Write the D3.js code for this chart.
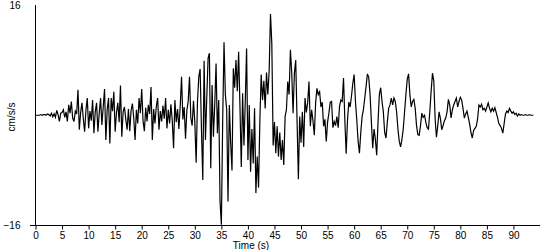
<!DOCTYPE html>
<html>
<head>
<meta charset="utf-8">
<script src="https://cdn.jsdelivr.net/npm/d3@7"></script>
<style>
  body { margin: 0; background: #fff; }
  svg { display: block; }
  .tick text, .lbl { font-family: "Liberation Sans", Arial, sans-serif; font-size: 10px; fill: #000; }
</style>
</head>
<body>
<svg id="chart" width="550" height="250"></svg>
<script>
// accelerogram, every 0.25 s
var dt = 0.25;
var accel = [
  0, 0, 0, 0, 0.1, 0, 0.1, 0.1, 0, 0.2, 0.1, -0.1, 0.3, -0.2, 0.2, -0.3, 0.7, 0.1, -0.9, 0.3,
  0.4, 0.8, -0.3, 0.5, -0.9, 1.5, 0.3, 2.0, -0.4, -0.9, 0.6, 0.2, 3.7, -2.1, 0.4, 1.8, -0.5, -2.4, 0.8, 2.5,
  -1.9, 0.6, -0.8, 2.2, -2.6, 0.5, 1.8, -2.4, 0.3, 2.5, -1.4, 1.2, 3.8, -3.6, 0.8, 2.5, -4.1, 2.5, 0.6, 3.4,
  -2.4, 0.4, 1.8, -1.0, 4.3, -3.1, 0.5, 1.2, -0.6, -2.1, 0.9, -2.3, 0.7, 1.7, -0.4, -3.6, 0.8, -1.2, 2.5, 0.3,
  3.8, -0.8, -2.3, 1.1, -0.9, 1.5, 0.2, 4.1, -3.6, 0.9, -1.2, 1.3, 2.5, -2.1, 0.6, -0.9, 1.4, -0.5, 2.5, -1.9,
  0.8, -1.2, 1.6, -0.8, -4.8, 2.2, -1.0, 0.9, -2.0, 1.3, 5.6, -0.6, 1.2, -3.4, 0.7, 2.0, 5.6, -0.4, -1.5, 2.1,
  -1.0, -6.9, 2.0, 5.6, 6.7, -2.0, -9.4, 7.9, -3.6, 2.5, 8.3, 9.0, -7.7, 4.4, -3.1, 1.5, 7.5, -2.6, 2.2, -12.5,
  -15.9, -0.7, 10.6, 3.0, 0.8, -12.5, 1.5, -4.0, -8.0, 6.8, 4.0, 8.0, 3.5, 9.2, 1.3, -7.5, 3.2, -4.4, 2.0, 9.7,
  -6.5, 1.5, -8.2, -2.0, -7.0, 1.0, -11.3, -6.0, -10.5, -0.7, 5.9, 2.2, 5.0, 1.0, 6.2, 3.0, 6.5, 14.7, 10.4, -4.4,
  -1.0, -5.5, -1.6, -6.0, -2.5, -6.5, -3.6, -7.2, -0.2, 0.8, 4.9, 3.0, 9.5, 6.1, 0.3, 6.1, 8.0, -0.7, -9.3, -0.2,
  -4.0, 0.5, -4.6, 2.5, 0.4, 1.8, 4.9, -1.6, 0.8, -0.8, -2.9, 1.8, 3.9, 3.0, 3.4, 1.2, 1.9, -1.6, -0.6, -3.8,
  -1.0, 0.3, 1.9, 2.0, -1.8, -0.9, -1.5, -0.2, -1.8, 1.3, 2.2, 2.0, 5.4, -0.7, -5.6, -0.7, 1.9, 1.2, 2.8, 4.6,
  5.9, 2.0, -0.7, -3.8, -5.5, -2.5, -0.2, 0.8, 2.5, 4.2, 6.0, 5.5, 3.0, -1.0, -4.8, -2.0, -3.5, -5.8, -1.0, 3.0,
  4.0, 2.0, 0.5, -2.5, -3.3, -1.0, 1.0, 1.5, 2.5, 1.5, 2.5, 2.0, 0.5, -2.0, -3.8, -4.6, -3.5, -2.0, 0.5, 3.0,
  5.2, 6.0, 3.0, 1.2, 2.0, 2.3, 1.0, -1.5, -2.8, -2.9, -1.5, 0.3, -0.3, 0.0, -1.0, -1.8, -2.0, 0.5, 3.5, 6.1,
  5.0, -0.5, -3.2, -1.5, 0.5, -0.5, -2.1, -1.5, -0.8, -0.4, 0.5, 2.3, 1.5, -0.4, 0.8, 1.5, 2.0, 2.5, 1.2, 2.0,
  2.6, 2.2, 1.0, -0.4, 0.2, 0.6, -0.3, -1.3, -2.5, -3.3, -2.2, -1.9, -1.6, -0.5, 1.5, 1.2, 1.6, 0.8, 1.0, 0.6,
  1.2, 1.8, 1.0, 0.5, 1.0, 0.6, 1.1, 0.4, -0.3, -1.2, -1.5, -1.9, -2.6, -1.2, 0.2, 0.6, 0.4, 1.0, 0.6, 0.3,
  0.5, 0.1, 0.3, -0.1, 0.2, 0, 0.1, 0, 0, 0.1, 0, 0, 0.1, 0, 0, 0
];
var xTicks = [0, 5, 10, 15, 20, 25, 30, 35, 40, 45, 50, 55, 60, 65, 70, 75, 80, 85, 90];
var yTicks = [-16, 16];
var xLabel = "Time (s)";
var yLabel = "cm/s/s";

var svg = d3.select("#chart");
svg.append("rect").attr("width", 550).attr("height", 250).attr("fill", "#fff");

var x = d3.scaleLinear().domain([0, 95]).range([35.5, 540]);
var y = d3.scaleLinear().domain([-16, 16]).range([225.5, 5]);

// trace
var line = d3.line()
  .x(function(d, i) { return x(i * dt); })
  .y(function(d) { return y(d); });

svg.append("path")
  .datum(accel)
  .attr("d", line)
  .attr("fill", "none")
  .attr("stroke", "#000")
  .attr("stroke-width", 1.2)
  .attr("stroke-linejoin", "miter");

// x axis
var gx = svg.append("g")
  .attr("transform", "translate(0," + y(-16) + ")")
  .call(d3.axisBottom(x).tickValues(xTicks).tickSize(4).tickSizeOuter(0).tickPadding(2)
    .tickFormat(d3.format("d")));
gx.select(".domain").remove();
gx.selectAll(".tick line").attr("stroke", "#000");
svg.append("line")
  .attr("x1", 30).attr("x2", 540)
  .attr("y1", y(-16)).attr("y2", y(-16))
  .attr("stroke", "#000");

// y axis
var gy = svg.append("g")
  .attr("transform", "translate(" + x(0) + ",0)")
  .call(d3.axisLeft(y).tickValues(yTicks).tickSize(0).tickPadding(15).tickFormat(d3.format("d")));
gy.select(".domain").remove();
svg.append("line")
  .attr("x1", x(0)).attr("x2", x(0))
  .attr("y1", y(16)).attr("y2", y(-16))
  .attr("stroke", "#000");

svg.append("text").attr("class", "lbl")
  .attr("x", 251).attr("y", 249)
  .attr("text-anchor", "middle")
  .text(xLabel);

svg.append("text").attr("class", "lbl")
  .attr("transform", "translate(15,117) rotate(-90)")
  .attr("text-anchor", "middle")
  .text(yLabel);
</script>
</body>
</html>
